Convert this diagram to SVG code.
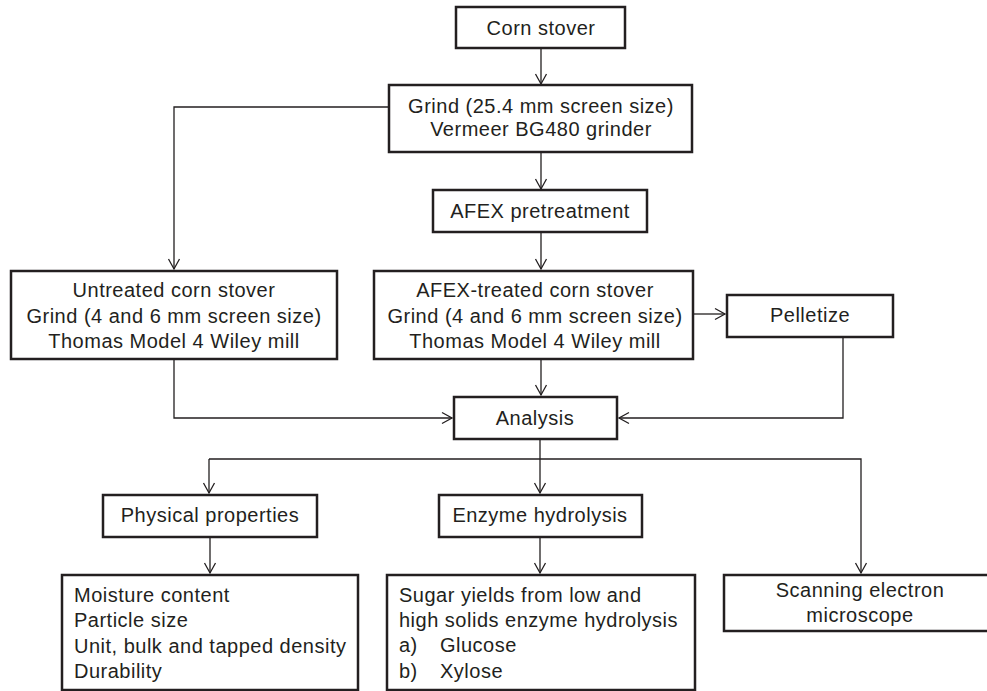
<svg xmlns="http://www.w3.org/2000/svg" width="987" height="691" viewBox="0 0 987 691">
<style>
  .box { fill: #ffffff; stroke: #231f20; stroke-width: 2.5; }
  .t { font-family: "Liberation Sans", Arial, sans-serif; font-size: 20px; letter-spacing: 0.5px; fill: #231f20; }
  .c { text-anchor: middle; }
  .conn { fill: none; stroke: #231f20; stroke-width: 1.3; }
</style>
<defs>
  <marker id="arr" markerUnits="userSpaceOnUse" markerWidth="14" markerHeight="14" viewBox="0 0 14 14" refX="12" refY="7" orient="auto">
    <path d="M2,1.5 L12,7 L2,12.5" fill="none" stroke="#231f20" stroke-width="1.3"/>
  </marker>
</defs>
<rect width="987" height="691" fill="#ffffff"/>

<g id="connectors">
  <path class="conn" d="M541,48 L541,84" marker-end="url(#arr)"/>
  <path class="conn" d="M541,152 L541,189" marker-end="url(#arr)"/>
  <path class="conn" d="M389,107 L174,107 L174,269" marker-end="url(#arr)"/>
  <path class="conn" d="M541,232 L541,269" marker-end="url(#arr)"/>
  <path class="conn" d="M693,314 L725,314" marker-end="url(#arr)"/>
  <path class="conn" d="M541,359 L541,395" marker-end="url(#arr)"/>
  <path class="conn" d="M174,359 L174,418 L452,418" marker-end="url(#arr)"/>
  <path class="conn" d="M843,337 L843,418 L619,418" marker-end="url(#arr)"/>
  <path class="conn" d="M540,439 L540,493" marker-end="url(#arr)"/>
  <path class="conn" d="M209,459 L861,459 L861,573" marker-end="url(#arr)"/>
  <path class="conn" d="M209,459 L209,493" marker-end="url(#arr)"/>
  <path class="conn" d="M210,537 L210,573" marker-end="url(#arr)"/>
  <path class="conn" d="M540,537 L540,573" marker-end="url(#arr)"/>
</g>

<g id="corn-stover">
  <rect class="box" x="456" y="7" width="169" height="41"/>
  <text class="t c" x="541" y="35">Corn stover</text>
</g>

<g id="grind">
  <rect class="box" x="389" y="85" width="303" height="67"/>
  <text class="t c" x="541" y="113">Grind (25.4 mm screen size)</text>
  <text class="t c" x="541" y="136">Vermeer BG480 grinder</text>
</g>

<g id="afex">
  <rect class="box" x="433" y="190" width="214" height="42"/>
  <text class="t c" x="540" y="218">AFEX pretreatment</text>
</g>

<g id="untreated">
  <rect class="box" x="11" y="271" width="326" height="88"/>
  <text class="t c" x="174" y="297">Untreated corn stover</text>
  <text class="t c" x="174" y="323">Grind (4 and 6 mm screen size)</text>
  <text class="t c" x="174" y="348">Thomas Model 4 Wiley mill</text>
</g>

<g id="afex-treated">
  <rect class="box" x="374" y="271" width="319" height="88"/>
  <text class="t c" x="535" y="297">AFEX-treated corn stover</text>
  <text class="t c" x="535" y="323">Grind (4 and 6 mm screen size)</text>
  <text class="t c" x="535" y="348">Thomas Model 4 Wiley mill</text>
</g>

<g id="pelletize">
  <rect class="box" x="727" y="295" width="166" height="42"/>
  <text class="t c" x="810" y="322">Pelletize</text>
</g>

<g id="analysis">
  <rect class="box" x="454" y="397" width="163" height="42"/>
  <text class="t c" x="535" y="425">Analysis</text>
</g>

<g id="physical">
  <rect class="box" x="103" y="495" width="214" height="42"/>
  <text class="t c" x="210" y="522">Physical properties</text>
</g>

<g id="enzyme">
  <rect class="box" x="439" y="495" width="203" height="42"/>
  <text class="t c" x="540" y="522">Enzyme hydrolysis</text>
</g>

<g id="physical-list">
  <rect class="box" x="62" y="575" width="296" height="115"/>
  <text class="t" x="74" y="602">Moisture content</text>
  <text class="t" x="74" y="627">Particle size</text>
  <text class="t" x="74" y="653">Unit, bulk and tapped density</text>
  <text class="t" x="74" y="678">Durability</text>
</g>

<g id="sugar">
  <rect class="box" x="387" y="575" width="308" height="115"/>
  <text class="t" x="399" y="602">Sugar yields from low and</text>
  <text class="t" x="399" y="627">high solids enzyme hydrolysis</text>
  <text class="t" x="399" y="652">a)</text>
  <text class="t" x="440" y="652">Glucose</text>
  <text class="t" x="399" y="678">b)</text>
  <text class="t" x="440" y="678">Xylose</text>
</g>

<g id="sem">
  <rect class="box" x="724" y="575" width="275" height="56"/>
  <text class="t c" x="860" y="597">Scanning electron</text>
  <text class="t c" x="860" y="622">microscope</text>
</g>
</svg>
